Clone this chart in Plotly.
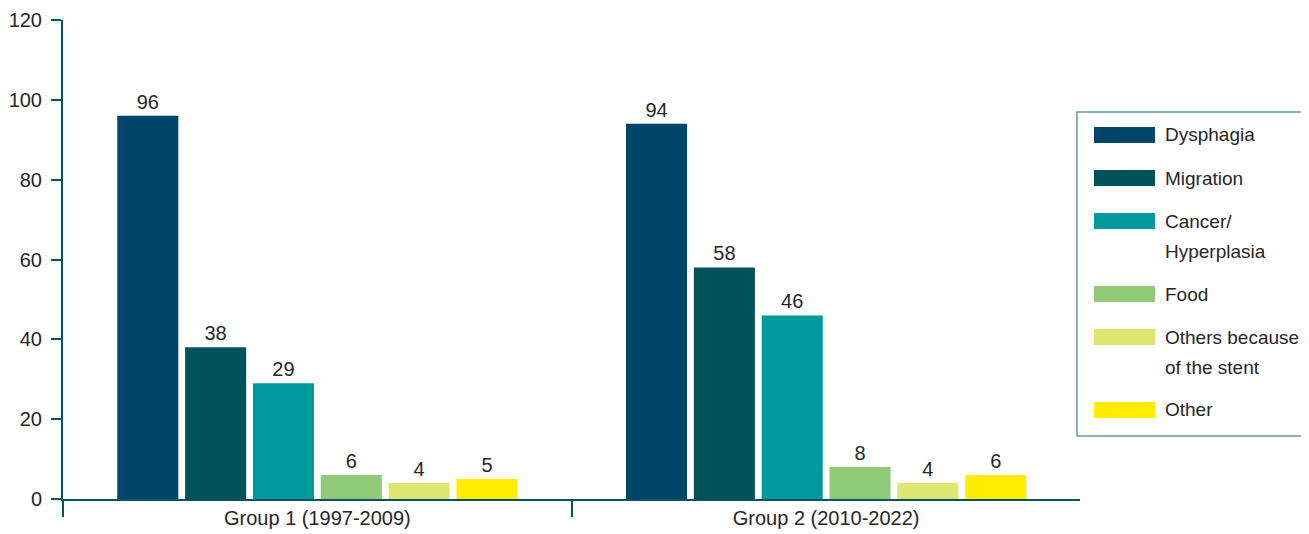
import plotly.graph_objects as go

groups = ["Group 1 (1997-2009)", "Group 2 (2010-2022)"]
series_names = ["Dysphagia", "Migration", "Cancer/<br>Hyperplasia", "Food",
                "Others because<br>of the stent", "Other"]
series_values = [
    [96, 94],
    [38, 58],
    [29, 46],
    [6, 8],
    [4, 4],
    [5, 6],
]
series_colors = ["#00446a", "#00525a", "#00999e", "#90c978", "#dfe66f", "#ffec00"]
y_ticks = [0, 20, 40, 60, 80, 100, 120]

FONT = "Liberation Sans, Arial, sans-serif"
FS = 20
LEG_FS = 19
AXIS_COLOR = "#00545f"
TEXT_COLOR = "#262626"
OFF = 8  # page body margin
W, H = 1309 - OFF, 534 - OFF
ML = 63 - OFF
MT = 20 - OFF
MR = W - (1080 - OFF)
MB = H - (499 - OFF)
PW, PH = W - ML - MR, H - MT - MB


def px_x(p):
    return (p - OFF - ML) / PW


def px_y(p):
    return (H - MB - (p - OFF)) / PH


fig = go.Figure()
for name, vals, col in zip(series_names, series_values, series_colors):
    fig.add_trace(go.Bar(
        x=groups, y=vals, name=name, marker=dict(color=col, line=dict(width=0)),
        text=[str(v) for v in vals], textposition="outside",
        textfont=dict(family=FONT, size=FS, color=TEXT_COLOR),
        cliponaxis=False, showlegend=False,
    ))

# Custom legend (large rectangular swatches, as in the reference)
shapes = [dict(type="rect", xref="paper", yref="paper",
               x0=px_x(1077), x1=px_x(1340), y0=px_y(112), y1=px_y(436),
               line=dict(color="#5f9ea0", width=1.5), fillcolor="rgba(0,0,0,0)")]
annotations = []
LINE_H = 30
ITEM_GAP = 43
yc = 135
for name, col in zip(series_names, series_colors):
    lines = name.split("<br>")
    shapes.append(dict(type="rect", xref="paper", yref="paper",
                       x0=px_x(1094), x1=px_x(1155), y0=px_y(yc - 8), y1=px_y(yc + 8),
                       line=dict(width=0), fillcolor=col))
    for k, ln in enumerate(lines):
        annotations.append(dict(xref="paper", yref="paper", x=px_x(1163), y=px_y(yc + k * LINE_H),
                                xanchor="left", yanchor="middle", text=ln, showarrow=False,
                                font=dict(family=FONT, size=LEG_FS, color=TEXT_COLOR)))
    yc += ITEM_GAP + LINE_H * (len(lines) - 1)

fig.update_layout(
    width=W, height=H,
    margin=dict(l=ML, r=MR, t=MT, b=MB),
    paper_bgcolor="white", plot_bgcolor="white",
    barmode="group", bargap=0.2, bargroupgap=0.1,
    font=dict(family=FONT, size=FS, color=TEXT_COLOR),
    showlegend=False,
    shapes=shapes, annotations=annotations,
)
fig.update_xaxes(
    type="category", range=[-0.5, 1.499], showline=True, linecolor=AXIS_COLOR, linewidth=2,
    ticks="outside", tickson="boundaries", ticklen=16, tickwidth=2, tickcolor=AXIS_COLOR,
    showgrid=False, automargin=False, tickfont=dict(family=FONT, size=FS, color=TEXT_COLOR),
)
fig.update_yaxes(
    range=[0, 120], tickvals=y_ticks, showline=True, linecolor=AXIS_COLOR, linewidth=2,
    ticks="outside", ticklen=10, tickwidth=2, tickcolor=AXIS_COLOR, ticklabelstandoff=5,
    showgrid=False, zeroline=False, automargin=False,
    tickfont=dict(family=FONT, size=FS, color=TEXT_COLOR),
)

fig.write_html("out.html")
